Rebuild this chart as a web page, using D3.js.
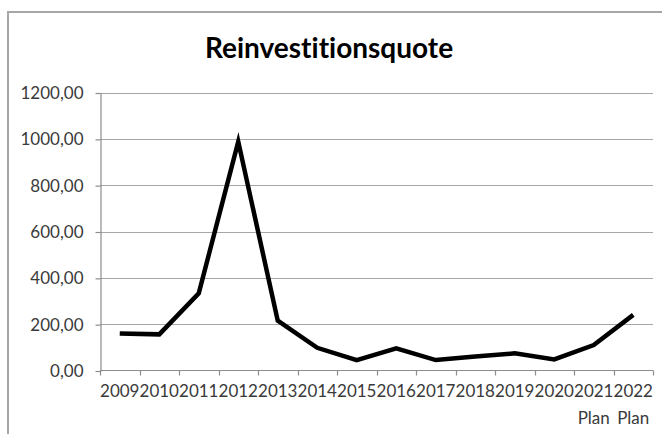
<!DOCTYPE html>
<html><head><meta charset="utf-8">
<script src="https://cdn.jsdelivr.net/npm/d3@7"></script>
<style>
html,body{margin:0;padding:0;background:#fff;}
svg{display:block;}
text{font-variant-ligatures:none;}
</style></head>
<body>
<svg id="chart" width="662" height="434"></svg>
<script>
const chartTitle = "Reinvestitionsquote";
const years = ["2009","2010","2011","2012","2013","2014","2015","2016","2017","2018","2019","2020","2021","2022"];
const subLabels = ["","","","","","","","","","","","","Plan","Plan"];
const values = [160, 156, 333, 988, 215, 98, 45, 96, 45, 60, 74, 48, 110, 240];
const yTicks = [0, 200, 400, 600, 800, 1000, 1200];

const svg = d3.select("#chart");
const font = "Lato, 'Open Sans', sans-serif";
const textColor = "#3a3a3a";

// outer frame
svg.append("rect").attr("x", 8).attr("y", 12).attr("width", 700).attr("height", 500)
  .attr("fill", "#fff").attr("stroke", "#a6a6a6").attr("stroke-width", 2);

const x = d3.scaleBand().domain(years).range([100, 653]).padding(0);
const y = d3.scaleLinear().domain([0, 1200]).range([370.5, 92.5]);

const loc = d3.formatLocale({decimal: ",", thousands: ".", grouping: [3], currency: ["", "€"]});
const fmt = loc.format(".2f");

// gridlines
svg.append("g").selectAll("line").data(yTicks.filter(d => d > 0)).join("line")
  .attr("x1", 100).attr("x2", 653)
  .attr("y1", d => Math.round(y(d)) + 0.5).attr("y2", d => Math.round(y(d)) + 0.5)
  .attr("stroke", "#a6a6a6").attr("stroke-width", 1.2);

// y axis
const yAxis = svg.append("g").attr("transform", "translate(100.5,0.5)")
  .call(d3.axisLeft(y).tickValues(yTicks).tickFormat(fmt).tickSize(5).tickSizeOuter(0).tickPadding(12));
yAxis.select(".domain").attr("stroke", "#8c8c8c").attr("stroke-width", 1.2);
yAxis.selectAll(".tick line").attr("stroke", "#8c8c8c").attr("stroke-width", 1.2);
yAxis.selectAll(".tick text").attr("fill", textColor).style("font-family", font).style("font-size", "17px");

// x axis
const xAxis = svg.append("g").attr("transform", "translate(0,370.5)");
xAxis.append("line").attr("x1", 100).attr("x2", 653).attr("y1", 0).attr("y2", 0)
  .attr("stroke", "#8c8c8c").attr("stroke-width", 1.2);
const bounds = years.map(d => x(d)).concat([x(years[years.length - 1]) + x.bandwidth()]);
xAxis.selectAll("line.tk").data(bounds).join("line").attr("class", "tk")
  .attr("x1", d => Math.round(d) + 0.5).attr("x2", d => Math.round(d) + 0.5)
  .attr("y1", 0).attr("y2", 5).attr("stroke", "#8c8c8c").attr("stroke-width", 1.2);
xAxis.selectAll("text.yr").data(years).join("text").attr("class", "yr")
  .attr("x", d => x(d) + x.bandwidth() / 2).attr("y", 26.5)
  .attr("text-anchor", "middle").attr("fill", textColor)
  .style("font-family", font).style("font-size", "17px").text(d => d);
xAxis.selectAll("text.sub").data(years.map((d, i) => ({year: d, label: subLabels[i]})).filter(d => d.label)).join("text").attr("class", "sub")
  .attr("x", d => x(d.year) + x.bandwidth() / 2).attr("y", 53.5)
  .attr("text-anchor", "middle").attr("fill", textColor)
  .style("font-family", font).style("font-size", "17px").text(d => d.label);

// line
const line = d3.line().x((d, i) => x(years[i]) + x.bandwidth() / 2).y(d => y(d));
svg.append("path").datum(values).attr("d", line)
  .attr("fill", "none").attr("stroke", "#000").attr("stroke-width", 4.5)
  .attr("stroke-linejoin", "miter").attr("stroke-miterlimit", 10);

// title
svg.append("text").attr("x", 329).attr("y", 58).attr("text-anchor", "middle")
  .style("font-family", font).style("font-weight", "bold").style("font-size", "28px")
  .attr("fill", "#000").text(chartTitle);
</script>
</body></html>
